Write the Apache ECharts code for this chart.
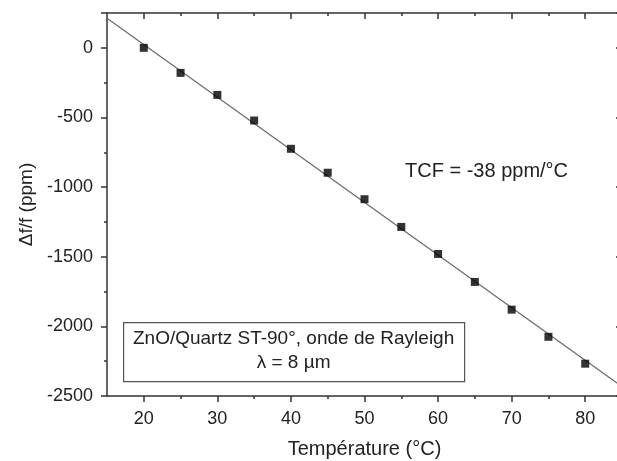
<!DOCTYPE html>
<html>
<head>
<meta charset="utf-8">
<script src="https://cdn.jsdelivr.net/npm/echarts@6/dist/echarts.min.js"></script>
<style>
  html, body { margin: 0; padding: 0; background: #fff; }
  #chart { width: 617px; height: 461px; }
</style>
</head>
<body>
<div id="chart"></div>
<script>
// mesures (température en °C, Δf/f en ppm)
const temperatures = [20, 25, 30, 35, 40, 45, 50, 55, 60, 65, 70, 75, 80];
const deltaF = [0, -180, -338, -522, -725, -897, -1087, -1286, -1480, -1681, -1880, -2075, -2268];
// droite d'ajustement lue aux bords du cadre
const fitLine = [[15, 212], [85, -2432]];
const majorTicksX = [20, 30, 40, 50, 60, 70, 80];
const minorTicksX = [25, 35, 45, 55, 65, 75];
const annotation = 'TCF = -38 ppm/°C';
const legendLines = ['ZnO/Quartz ST-90°, onde de Rayleigh', 'λ = 8 µm'];

const chart = echarts.init(document.getElementById('chart'));
const font = 'Liberation Sans, Arial, sans-serif';
const axisCol = '#333';
const textCol = '#222';
const tickStyle = { color: axisCol, width: 1.5 };

const gridRect = { left: 107, top: 13, width: 515, height: 383, containLabel: false, outerBoundsMode: 'none' };

const xBase = {
  type: 'value', min: 15, max: 85,
  splitLine: { show: false },
  axisLine: { show: true, onZero: false, lineStyle: { color: axisCol, width: 1.5 } }
};
const hiddenLine = { show: false, onZero: false };

chart.setOption({
  animation: false,
  backgroundColor: '#fff',
  textStyle: { fontFamily: font },
  // grille 1 : axes principaux ; grille 2 : même cadre, graduations secondaires en X
  grid: [gridRect, Object.assign({}, gridRect)],
  xAxis: [
    Object.assign({}, xBase, {
      gridIndex: 0, position: 'bottom',
      name: 'Température (°C)', nameLocation: 'middle', nameGap: 43,
      nameTextStyle: { fontSize: 20, color: textCol, fontFamily: font },
      axisTick: { show: true, inside: false, length: 6, customValues: majorTicksX, lineStyle: tickStyle },
      axisLabel: { customValues: majorTicksX, fontSize: 18, color: textCol, margin: 14, fontFamily: font }
    }),
    Object.assign({}, xBase, {
      gridIndex: 0, position: 'top',
      axisTick: { show: true, inside: true, length: 6, customValues: majorTicksX, lineStyle: tickStyle },
      axisLabel: { show: false }
    }),
    Object.assign({}, xBase, {
      gridIndex: 1, position: 'bottom',
      axisLine: hiddenLine,
      axisTick: { show: true, inside: false, length: 3, customValues: minorTicksX, lineStyle: tickStyle },
      axisLabel: { show: false }
    }),
    Object.assign({}, xBase, {
      gridIndex: 1, position: 'top',
      axisLine: hiddenLine,
      axisTick: { show: true, inside: true, length: 3, customValues: minorTicksX, lineStyle: tickStyle },
      axisLabel: { show: false }
    })
  ],
  yAxis: [
    {
      gridIndex: 0, type: 'value', min: -2500, max: 250, interval: 500, position: 'left',
      name: 'Δf/f (ppm)', nameLocation: 'middle', nameGap: 70, nameRotate: 90,
      nameTextStyle: { fontSize: 19, color: textCol, fontFamily: font },
      splitLine: { show: false },
      axisLine: { show: true, onZero: false, lineStyle: { color: axisCol, width: 1.5 } },
      axisTick: { show: true, inside: false, length: 6, lineStyle: tickStyle },
      minorTick: { show: true, splitNumber: 2, length: 3, lineStyle: tickStyle },
      axisLabel: { fontSize: 18, color: textCol, margin: 14, showMaxLabel: false, fontFamily: font,
        formatter: v => String(v) }
    },
    {
      gridIndex: 0, type: 'value', min: -2500, max: 250, interval: 500, position: 'right',
      splitLine: { show: false },
      axisLine: { show: true, onZero: false, lineStyle: { color: axisCol, width: 1.5 } },
      axisTick: { show: true, inside: true, length: 6, lineStyle: tickStyle },
      axisLabel: { show: false }
    },
    {
      gridIndex: 1, type: 'value', min: -2500, max: 250, show: false
    }
  ],
  series: [
    {
      name: 'ajustement', type: 'line', xAxisIndex: 0, yAxisIndex: 0,
      data: fitLine, showSymbol: false, silent: true,
      lineStyle: { color: '#6a6a6a', width: 1.2 }, z: 2
    },
    {
      name: 'mesures', type: 'scatter', xAxisIndex: 0, yAxisIndex: 0,
      data: temperatures.map((t, i) => [t, deltaF[i]]),
      symbol: 'rect', symbolSize: 8,
      itemStyle: { color: '#000' }, z: 3
    }
  ],
  graphic: [
    {
      type: 'text', left: 405, top: 161,
      style: { text: annotation, fontSize: 20, fill: textCol, fontFamily: font }
    },
    {
      type: 'group', left: 123, top: 322,
      children: [
        { type: 'rect', shape: { x: 0, y: 0, width: 341, height: 59 },
          style: { fill: '#fff', stroke: '#555', lineWidth: 1.2 } },
        { type: 'text', x: 170, y: 7,
          style: { text: legendLines[0], fontSize: 19, fill: textCol, align: 'center', fontFamily: font } },
        { type: 'text', x: 170, y: 31,
          style: { text: legendLines[1], fontSize: 19, fill: textCol, align: 'center', fontFamily: font } }
      ]
    }
  ]
});
</script>
</body>
</html>
